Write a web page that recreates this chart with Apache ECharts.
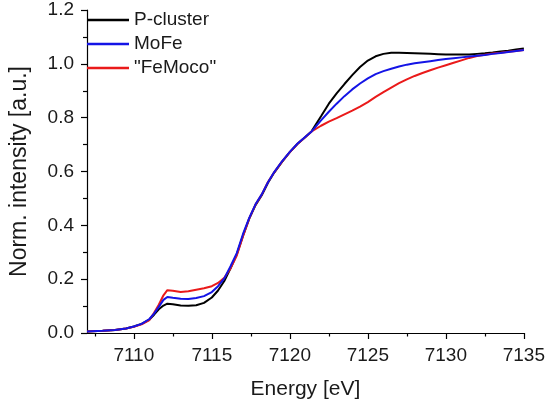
<!DOCTYPE html>
<html>
<head>
<meta charset="utf-8">
<script src="https://cdn.jsdelivr.net/npm/echarts@6/dist/echarts.min.js"></script>
<style>html,body{margin:0;padding:0;background:#fff}#c{width:548px;height:405px}</style>
</head>
<body>
<div id="c"></div>
<script>
const energy = [7107.0, 7108.0, 7108.8, 7109.5, 7110.0, 7110.5, 7111.0, 7111.3, 7111.6, 7111.9,
  7112.15, 7112.5, 7113.0, 7113.5, 7114.0, 7114.5, 7115.0, 7115.4, 7115.8, 7116.2,
  7116.6, 7117.0, 7117.4, 7117.8, 7118.2, 7118.6, 7119.0, 7119.5, 7120.0, 7120.5,
  7121.0, 7121.4, 7122.0, 7122.5, 7123.0, 7123.5, 7124.0, 7124.5, 7125.0, 7125.5,
  7126.0, 7126.5, 7127.0, 7127.5, 7128.0, 7128.5, 7129.0, 7129.5, 7130.0, 7130.5,
  7131.0, 7131.5, 7132.0, 7132.5, 7133.0, 7133.5, 7134.0, 7134.5, 7135.0];

const pCluster = [0.006, 0.008, 0.011, 0.017, 0.024, 0.034, 0.050, 0.068, 0.088, 0.102,
  0.109, 0.107, 0.102, 0.101, 0.103, 0.112, 0.132, 0.158, 0.193, 0.240,
  0.292, 0.362, 0.425, 0.475, 0.512, 0.558, 0.596, 0.636, 0.672, 0.703,
  0.728, 0.750, 0.805, 0.852, 0.890, 0.925, 0.958, 0.988, 1.012, 1.028,
  1.037, 1.041, 1.041, 1.040, 1.039, 1.038, 1.037, 1.036, 1.035, 1.035,
  1.035, 1.035, 1.037, 1.039, 1.042, 1.046, 1.049, 1.053, 1.057];

const moFe = [0.006, 0.008, 0.011, 0.017, 0.024, 0.034, 0.052, 0.072, 0.097, 0.123,
  0.134, 0.131, 0.127, 0.126, 0.130, 0.137, 0.152, 0.174, 0.203, 0.248,
  0.297, 0.368, 0.428, 0.478, 0.515, 0.560, 0.598, 0.638, 0.673, 0.704,
  0.729, 0.749, 0.790, 0.822, 0.852, 0.880, 0.905, 0.927, 0.946, 0.962,
  0.973, 0.982, 0.990, 0.997, 1.002, 1.006, 1.010, 1.014, 1.018, 1.021,
  1.024, 1.027, 1.030, 1.033, 1.037, 1.040, 1.044, 1.048, 1.051];

const feMoco = [0.006, 0.008, 0.011, 0.017, 0.023, 0.032, 0.048, 0.075, 0.105, 0.140,
  0.159, 0.157, 0.152, 0.155, 0.161, 0.166, 0.174, 0.186, 0.205, 0.240,
  0.288, 0.360, 0.426, 0.477, 0.514, 0.561, 0.597, 0.637, 0.672, 0.703,
  0.728, 0.749, 0.770, 0.785, 0.798, 0.812, 0.826, 0.841, 0.858, 0.877,
  0.895, 0.912, 0.928, 0.942, 0.955, 0.966, 0.976, 0.986, 0.995, 1.004,
  1.013, 1.022, 1.029, 1.034, 1.038, 1.041, 1.045, 1.048, 1.051];

const xMajorTicks = [7110, 7115, 7120, 7125, 7130, 7135];
const xMinorTicks = [7107.5, 7112.5, 7117.5, 7122.5, 7127.5, 7132.5];
const seriesNames = ['P-cluster', 'MoFe', '"FeMoco"'];
const seriesColors = ['#000000', '#1414e6', '#ea1a1a'];

const FONT = "'Liberation Sans', Arial, sans-serif";
const TXT = '#1a1a1a';
function pairs(ys) { return energy.map((e, i) => [e, ys[i]]); }

const chart = echarts.init(document.getElementById('c'), null, {renderer: 'canvas'});
chart.setOption({
  animation: false,
  backgroundColor: '#fff',
  grid: {left: 80.5, right: 22, top: 10, bottom: 66.7, containLabel: false},
  legend: {
    orient: 'vertical', left: 82, top: 5,
    icon: 'rect', itemWidth: 42, itemHeight: 2.5, itemGap: 4,
    textStyle: {fontFamily: FONT, fontSize: 19, color: TXT, lineHeight: 20, height: 20, padding: [0,0,0,0]},
    data: seriesNames
  },
  xAxis: [{
    type: 'value', min: 7107, max: 7135,
    name: 'Energy [eV]', nameLocation: 'middle', nameGap: 46,
    nameTextStyle: {fontFamily: FONT, fontSize: 21, color: TXT},
    axisLine: {show: true, lineStyle: {color: '#000', width: 1.2}},
    axisTick: {show: true, inside: false, length: 6, customValues: xMajorTicks, lineStyle: {color: '#000', width: 1.2}},
    axisLabel: {show: true, customValues: xMajorTicks, margin: 13, fontFamily: FONT, fontSize: 19, color: TXT,
      formatter: v => String(v)},
    splitLine: {show: false}
  }, {
    type: 'value', min: 7107, max: 7135, position: 'bottom',
    axisLine: {show: false},
    axisTick: {show: true, inside: false, length: 3.5, customValues: xMinorTicks, lineStyle: {color: '#000', width: 1.2}},
    axisLabel: {show: false},
    splitLine: {show: false}
  }],
  yAxis: {
    type: 'value', min: 0, max: 1.2, interval: 0.2,
    name: 'Norm. intensity [a.u.]', nameLocation: 'middle', nameGap: 56, nameRotate: 90,
    nameTextStyle: {fontFamily: FONT, fontSize: 23, color: TXT},
    axisLine: {show: true, lineStyle: {color: '#000', width: 1.2}},
    axisTick: {show: true, inside: false, length: 6, lineStyle: {color: '#000', width: 1.2}},
    minorTick: {show: true, splitNumber: 2, length: 4, lineStyle: {color: '#000', width: 1.2}},
    axisLabel: {margin: 13, fontFamily: FONT, fontSize: 19, color: TXT, formatter: v => v.toFixed(1)},
    splitLine: {show: false}
  },
  series: [
    {name: seriesNames[0], type: 'line', data: pairs(pCluster), symbol: 'none', z: 2,
     lineStyle: {color: seriesColors[0], width: 2}, itemStyle: {color: seriesColors[0]}},
    {name: seriesNames[1], type: 'line', data: pairs(moFe), symbol: 'none', z: 4,
     lineStyle: {color: seriesColors[1], width: 2}, itemStyle: {color: seriesColors[1]}},
    {name: seriesNames[2], type: 'line', data: pairs(feMoco), symbol: 'none', z: 3,
     lineStyle: {color: seriesColors[2], width: 2}, itemStyle: {color: seriesColors[2]}}
  ]
});
</script>
</body>
</html>
